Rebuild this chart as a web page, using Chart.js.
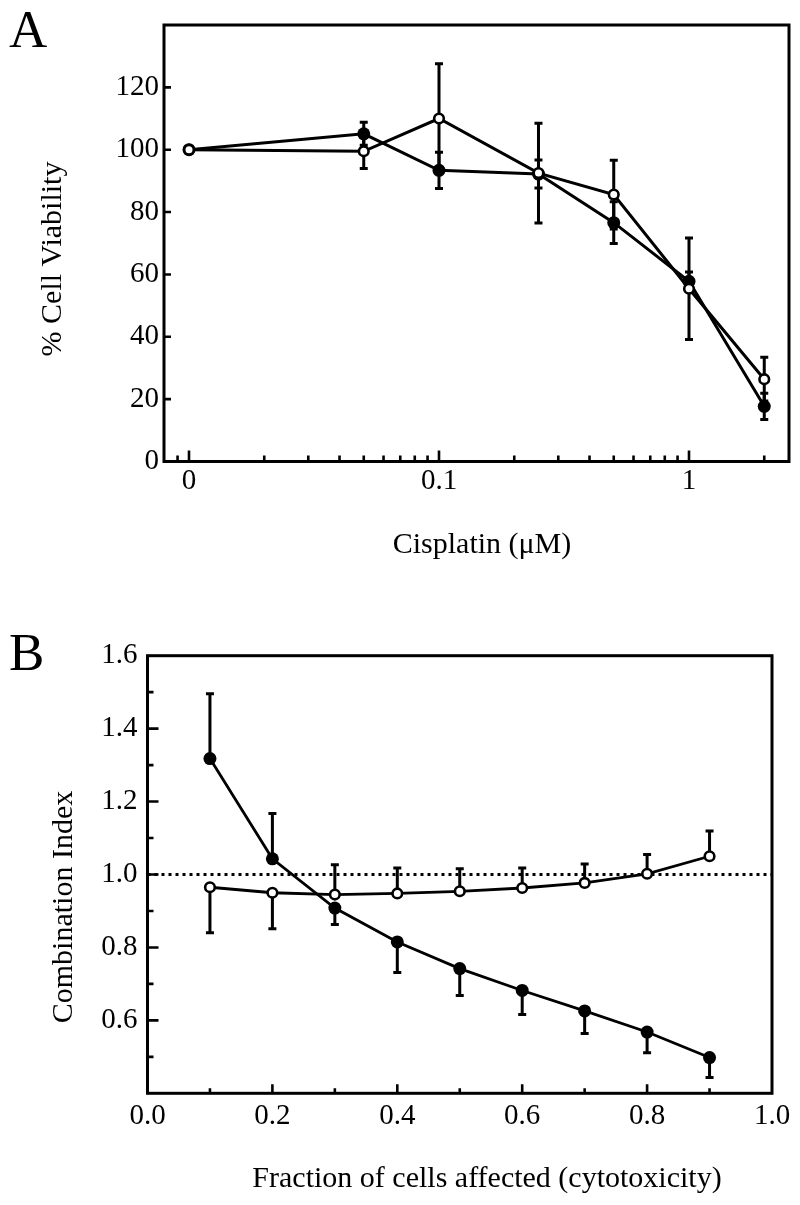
<!DOCTYPE html>
<html>
<head>
<meta charset="utf-8">
<title>Cisplatin viability and combination index</title>
<script src="https://cdn.jsdelivr.net/npm/chart.js@4.4.1/dist/chart.umd.min.js"></script>
<style>
  html, body { margin: 0; padding: 0; background: #fff; }
  #page { position: relative; width: 800px; height: 1205px; }
  .panel { position: absolute; left: 0; width: 800px; }
  #panelA { top: 0; height: 590px; }
  #panelB { top: 590px; height: 615px; }
  canvas { display: block; }
</style>
</head>
<body>
<div id="page">
  <div class="panel" id="panelA"><canvas id="chartA" width="800" height="590"></canvas></div>
  <div class="panel" id="panelB"><canvas id="chartB" width="800" height="615"></canvas></div>
</div>
<script>
// ---- Panel A: % cell viability vs cisplatin (log axis, 0 drawn at 0.01) ----
const ZERO_DOSE_POS = 0.01;
const cisplatinDoses = [0, 0.05, 0.1, 0.25, 0.5, 1, 2];
const viabilityFilled = [100, 105.1, 93.4, 92.2, 76.6, 57.8, 17.7];
const viabilityFilledErr = [0, 3.7, 5.8, 4.5, 6.7, 3.0, 4.2];
const viabilityOpen = [100, 99.5, 110.0, 92.5, 85.6, 55.4, 26.4];
const viabilityOpenErr = [0, 5.5, 17.6, 16.0, 11.0, 16.3, 7.0];
const doseTickValues = [0.01, 0.1, 1];
const doseTickLabels = ['0', '0.1', '1'];
const doseMinorTicks = [0.009, 0.02, 0.03, 0.04, 0.05, 0.06, 0.07, 0.08, 0.09,
                        0.2, 0.3, 0.4, 0.5, 0.6, 0.7, 0.8, 0.9, 2];
const viabilityTicks = [0, 20, 40, 60, 80, 100, 120];

// ---- Panel B: combination index vs fraction affected ----
const fractionAffected = [0.1, 0.2, 0.3, 0.4, 0.5, 0.6, 0.7, 0.8, 0.9];
const ciFilled = [1.318, 1.043, 0.908, 0.815, 0.742, 0.682, 0.626, 0.568, 0.498];
const ciFilledErrUp = [0.178, 0.124, 0, 0, 0, 0, 0, 0, 0];
const ciFilledErrDown = [0, 0, 0.045, 0.084, 0.074, 0.066, 0.062, 0.057, 0.055];
const ciOpen = [0.965, 0.950, 0.945, 0.948, 0.954, 0.963, 0.977, 1.002, 1.050];
const ciOpenErrUp = [0, 0, 0.082, 0.070, 0.062, 0.055, 0.052, 0.053, 0.069];
const ciOpenErrDown = [0.125, 0.099, 0, 0, 0, 0, 0, 0, 0];
const additivityX = [0, 1];
const additivityY = [1, 1];
const fractionTicks = [0, 0.2, 0.4, 0.6, 0.8, 1.0];
const fractionMinorTicks = [0.1, 0.3, 0.5, 0.7, 0.9];
const ciTicks = [0.6, 0.8, 1.0, 1.2, 1.4, 1.6];
const ciMinorTicks = [0.5, 0.7, 0.9, 1.1, 1.3, 1.5];

const SERIF = '"Liberation Serif", "Times New Roman", serif';
Chart.defaults.font.family = SERIF;
Chart.defaults.color = '#000';

const toPoints = (xs, ys) => xs.map((x, i) => ({ x: x, y: ys[i] }));
const dosePos = (d) => (d === 0 ? ZERO_DOSE_POS : d);

// vertical error bars, drawn under the lines and markers
const errorBarPlugin = {
  id: 'errorBars',
  beforeDatasetsDraw(chart) {
    const ctx = chart.ctx;
    const xs = chart.scales.x;
    const ys = chart.scales.y;
    chart.data.datasets.forEach((ds) => {
      if (!ds.errUp) return;
      ctx.save();
      ctx.strokeStyle = '#000';
      ctx.lineWidth = 3;
      ds.data.forEach((p, i) => {
        const px = xs.getPixelForValue(p.x);
        const y0 = ys.getPixelForValue(p.y);
        [[ds.errUp[i], 1], [ds.errDown[i], -1]].forEach(([e, s]) => {
          if (!e) return;
          const y1 = ys.getPixelForValue(p.y + s * e);
          ctx.beginPath();
          ctx.moveTo(px, y0);
          ctx.lineTo(px, y1);
          ctx.moveTo(px - 4, y1);
          ctx.lineTo(px + 4, y1);
          ctx.stroke();
        });
      });
      ctx.restore();
    });
  }
};

// closed box with inward tick marks
const framePlugin = {
  id: 'frame',
  afterDatasetsDraw(chart, args, opts) {
    const { left, right, top, bottom } = chart.chartArea;
    const ctx = chart.ctx;
    const xs = chart.scales.x;
    const ys = chart.scales.y;
    ctx.save();
    ctx.strokeStyle = '#000';
    ctx.lineWidth = 2.6;
    ctx.beginPath();
    opts.xTicks.forEach((t) => {
      const px = xs.getPixelForValue(t.value);
      ctx.moveTo(px, bottom);
      ctx.lineTo(px, bottom - t.len);
    });
    opts.yTicks.forEach((t) => {
      const py = ys.getPixelForValue(t.value);
      ctx.moveTo(left, py);
      ctx.lineTo(left + t.len, py);
    });
    ctx.stroke();
    ctx.lineWidth = 3;
    ctx.lineJoin = 'miter';
    ctx.strokeRect(left, top, right - left, bottom - top);
    ctx.restore();
  }
};

// axis titles and panel letters
const textPlugin = {
  id: 'panelText',
  afterDraw(chart, args, opts) {
    const ctx = chart.ctx;
    opts.items.forEach((t) => {
      ctx.save();
      ctx.fillStyle = '#000';
      ctx.font = t.size + 'px ' + SERIF;
      ctx.textAlign = t.align || 'center';
      ctx.textBaseline = 'alphabetic';
      ctx.translate(t.x, t.y);
      if (t.rotate) ctx.rotate(t.rotate);
      ctx.fillText(t.text, 0, 0);
      ctx.restore();
    });
  }
};

const ticksFrom = (values, len) => values.map((v) => ({ value: v, len: len }));

const filledStyle = {
  showLine: true,
  borderColor: '#000',
  borderWidth: 3,
  pointRadius: 6.5,
  pointBackgroundColor: '#000',
  pointBorderColor: '#000',
  pointBorderWidth: 0,
  order: 1
};
const openStyle = {
  showLine: true,
  borderColor: '#000',
  borderWidth: 3,
  pointRadius: 4.8,
  pointBackgroundColor: '#fff',
  pointBorderColor: '#000',
  pointBorderWidth: 2.6,
  order: 0
};

// ---------- Chart A ----------
const doseX = cisplatinDoses.map(dosePos);
new Chart(document.getElementById('chartA'), {
  type: 'scatter',
  data: {
    datasets: [
      Object.assign({
        label: 'filled',
        data: toPoints(doseX, viabilityFilled),
        errUp: viabilityFilledErr,
        errDown: viabilityFilledErr
      }, filledStyle),
      Object.assign({
        label: 'open',
        data: toPoints(doseX, viabilityOpen),
        errUp: viabilityOpenErr,
        errDown: viabilityOpenErr
      }, openStyle)
    ]
  },
  options: {
    responsive: false,
    animation: false,
    layout: { padding: { top: 25, right: 11, left: 0, bottom: 0 } },
    plugins: {
      legend: { display: false },
      tooltip: { enabled: false },
      frame: {
        xTicks: ticksFrom(doseTickValues, 11).concat(ticksFrom(doseMinorTicks, 6)),
        yTicks: ticksFrom(viabilityTicks.slice(1), 7)
      },
      panelText: {
        items: [
          { text: 'A', x: 9, y: 47, size: 53, align: 'left' },
          { text: '% Cell Viability', x: 61, y: 259, size: 30, rotate: -Math.PI / 2 },
          { text: 'Cisplatin (\u03bcM)', x: 482, y: 553, size: 30 }
        ]
      }
    },
    scales: {
      x: {
        type: 'logarithmic',
        min: Math.pow(10, -2.1),
        max: Math.pow(10, 0.4),
        grid: { display: false, drawTicks: false },
        border: { display: false },
        afterBuildTicks: (scale) => { scale.ticks = doseTickValues.map((v) => ({ value: v })); },
        afterFit: (scale) => { scale.height = 590 - 461.5; },
        ticks: {
          autoSkip: false,
          maxRotation: 0,
          padding: 2,
          font: { size: 29 },
          callback: (v, i) => doseTickLabels[i]
        }
      },
      y: {
        min: 0,
        max: 140,
        grid: { display: false, drawTicks: false },
        border: { display: false },
        afterBuildTicks: (scale) => { scale.ticks = viabilityTicks.map((v) => ({ value: v })); },
        afterFit: (scale) => { scale.width = 164; },
        ticks: { padding: 5, font: { size: 29 }, callback: (v) => String(v) }
      }
    }
  },
  plugins: [errorBarPlugin, framePlugin, textPlugin]
});

// ---------- Chart B ----------
new Chart(document.getElementById('chartB'), {
  type: 'scatter',
  data: {
    datasets: [
      Object.assign({
        label: 'open',
        data: toPoints(fractionAffected, ciOpen),
        errUp: ciOpenErrUp,
        errDown: ciOpenErrDown
      }, openStyle, { borderWidth: 2.8 }),
      Object.assign({
        label: 'filled',
        data: toPoints(fractionAffected, ciFilled),
        errUp: ciFilledErrUp,
        errDown: ciFilledErrDown
      }, filledStyle, { borderWidth: 2.8 }),
      {
        label: 'CI = 1',
        data: toPoints(additivityX, additivityY),
        showLine: true,
        borderColor: '#000',
        borderWidth: 3,
        borderDash: [3, 4],
        pointRadius: 0,
        order: 2
      }
    ]
  },
  options: {
    responsive: false,
    animation: false,
    layout: { padding: { top: 65.7, right: 28, left: 0, bottom: 0 } },
    plugins: {
      legend: { display: false },
      tooltip: { enabled: false },
      frame: {
        xTicks: ticksFrom(fractionTicks.slice(1, -1), 9).concat(ticksFrom(fractionMinorTicks, 5)),
        yTicks: ticksFrom(ciTicks.slice(0, -1), 11).concat(ticksFrom(ciMinorTicks, 6))
      },
      panelText: {
        items: [
          { text: 'B', x: 9, y: 80, size: 53, align: 'left' },
          { text: 'Combination Index', x: 71.5, y: 317, size: 30, rotate: -Math.PI / 2 },
          { text: 'Fraction of cells affected (cytotoxicity)', x: 487, y: 597, size: 30 }
        ]
      }
    },
    scales: {
      x: {
        type: 'linear',
        min: 0,
        max: 1,
        grid: { display: false, drawTicks: false },
        border: { display: false },
        afterBuildTicks: (scale) => { scale.ticks = fractionTicks.map((v) => ({ value: v })); },
        afterFit: (scale) => { scale.height = 615 - 503.3; },
        ticks: {
          autoSkip: false,
          maxRotation: 0,
          padding: 6,
          font: { size: 29 },
          callback: (v) => Number(v).toFixed(1)
        }
      },
      y: {
        min: 0.4,
        max: 1.6,
        grid: { display: false, drawTicks: false },
        border: { display: false },
        afterBuildTicks: (scale) => { scale.ticks = ciTicks.map((v) => ({ value: v })); },
        afterFit: (scale) => { scale.width = 147.5; },
        ticks: { padding: 10, font: { size: 29 }, callback: (v) => Number(v).toFixed(1) }
      }
    }
  },
  plugins: [errorBarPlugin, framePlugin, textPlugin]
});
</script>
</body>
</html>
